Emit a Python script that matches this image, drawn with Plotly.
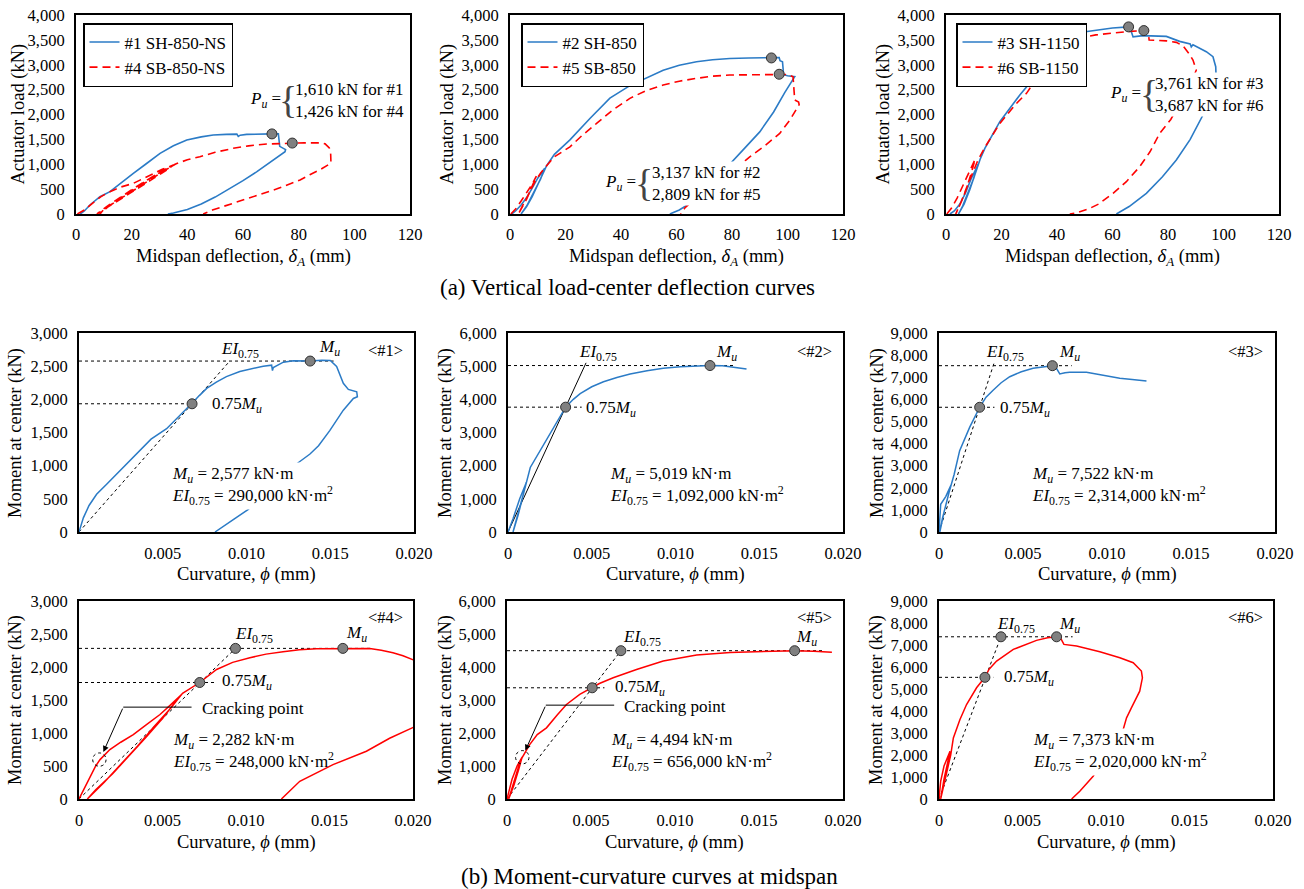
import plotly.graph_objects as go

W, H = 1304, 889
FONT = "Liberation Serif, Times New Roman, Times, serif"
BLUE = "#2B7BC6"
RED = "#FF0000"
GREY = "#808080"

# ---------------- (a) actuator load vs midspan deflection ----------------
a_xticks = [0, 20, 40, 60, 80, 100, 120]
a_yticks = [0, 500, 1000, 1500, 2000, 2500, 3000, 3500, 4000]

# #1 SH-850-NS
a1_sh_x = [1.5, 3.0, 5.0, 8.6, 12.2, 16.0, 20.6, 25.0, 30.2, 35.0, 39.8, 45.0, 49.3, 54.0, 57.8, 58.3, 59.0,
           61.3, 66.0, 70.4, 72.7, 73.0, 73.2, 74.5, 75.3, 75.1, 70.0, 65.0, 60.0, 55.0, 50.0, 45.0, 40.0, 35.0, 33.0]
a1_sh_y = [0, 60, 181, 348, 449, 620, 817, 1000, 1219, 1370, 1487, 1550, 1588, 1600, 1605, 1560, 1585,
           1600, 1612, 1610, 1610, 1500, 1360, 1320, 1295, 1253, 1040, 850, 670, 500, 340, 200, 90, 20, 0]
# #4 SB-850-NS
a1_sb_x = [0.5, 3, 6, 9, 12.2, 16, 20.6, 24, 27.8, 31, 35.0, 33, 28, 22, 16, 11, 7.5, 11, 16, 22, 28, 33, 35.5,
           32, 26, 20, 14, 10, 8.5, 12, 18, 24, 30, 36, 40, 44.5, 50, 56.5, 62, 68.5, 74, 77.7, 82, 87.7, 89.5,
           91.0, 91.5, 91.6, 88, 84, 80.5, 72, 63.7, 55, 49, 45.7]
a1_sb_y = [0, 80, 220, 350, 449, 540, 616, 710, 817, 900, 985, 900, 720, 510, 300, 130, 0, 150, 340, 560, 770,
           930, 995, 880, 660, 450, 240, 90, 0, 170, 400, 620, 840, 1010, 1090, 1152, 1240, 1320, 1370, 1407,
           1420, 1426, 1430, 1430, 1410, 1330, 1200, 1020, 900, 790, 683, 500, 348, 190, 80, 0]
a1_pu_x = [70.4, 77.7]
a1_pu_y = [1610, 1426]

# #2 SH-850
a2_sh_x = [0.6, 2, 4, 6, 8, 10, 12, 12.5, 11, 8, 6, 4, 6, 8, 10, 12, 13.2, 16, 21.6, 28.8, 36, 43.2, 50, 55.2,
           61, 67.2, 73, 79.2, 86, 94.2, 97, 97.3, 98.2, 98.6, 100, 102.6, 99, 95, 90, 85, 81.6, 75, 68, 64.8,
           61, 57.6]
a2_sh_y = [0, 60, 180, 330, 520, 720, 880, 920, 700, 380, 160, 0, 150, 350, 600, 850, 970, 1200, 1490, 1920,
           2330, 2580, 2760, 2890, 2990, 3060, 3100, 3125, 3137, 3137, 3145, 3080, 3060, 2800, 2780, 2760, 2440,
           2050, 1650, 1350, 1150, 750, 420, 214, 80, 0]
# #5 SB-850
a2_sb_x = [0.3, 2, 4, 6, 8, 9.5, 8, 6, 4, 3, 5, 7, 9, 11, 13.2, 16, 21.6, 26, 31.2, 37, 43.2, 49, 55.2, 61,
           67.2, 73, 79.2, 88, 97, 100, 102, 102.2, 102.6, 104, 104.2, 101, 97.2, 92, 86.4, 78, 70, 64.8, 63, 61.5]
a2_sb_y = [0, 100, 260, 420, 600, 760, 560, 300, 100, 0, 200, 430, 650, 820, 970, 1150, 1350, 1580, 1820,
           2090, 2325, 2480, 2593, 2670, 2727, 2770, 2794, 2805, 2809, 2805, 2760, 2500, 2291, 2250, 2200, 1900,
           1620, 1380, 1150, 750, 420, 214, 120, 0]
a2_pu_x = [94.2, 97.0]
a2_pu_y = [3137, 2809]

# #3 SH-1150
a3_sh_x = [1.4, 3, 5, 7, 9, 11, 11.6, 10, 8, 6, 4.5, 6.5, 8.5, 10.5, 12.3, 14, 19.4, 26.6, 32.6, 37, 41, 47,
           54, 60, 65.8, 66.3, 66.8, 67.4, 71, 79.4, 84.2, 88, 88.4, 89, 93.8, 96.2, 97.2, 97.3, 95.5, 92.6, 88,
           83, 78, 72.2, 66, 61.4]
a3_sh_y = [0, 60, 200, 420, 700, 950, 1000, 720, 420, 160, 0, 200, 480, 800, 1100, 1320, 1856, 2392, 2794,
           3200, 3500, 3640, 3700, 3740, 3761, 3770, 3665, 3560, 3585, 3570, 3470, 3420, 3360, 3400, 3263, 3162,
           2961, 2800, 2400, 1990, 1500, 1085, 750, 415, 150, 0]
# #6 SB-1150
a3_sb_x = [0.3, 2, 4, 6, 8, 10, 10.5, 9, 7, 5, 3.5, 5.5, 7.5, 9.5, 11.5, 14, 19.4, 25, 29, 33, 36.2, 41, 47,
           54, 60, 66, 71.3, 72.8, 73.2, 76, 79.4, 83, 85.4, 87.5, 89, 90.2, 88, 84, 81, 77, 73.5, 69.8, 65,
           60.2, 55, 51.8, 47, 44.6]
a3_sb_y = [0, 120, 320, 560, 820, 1050, 1100, 800, 450, 180, 0, 250, 540, 830, 1080, 1340, 1820, 2200, 2425,
           2750, 3050, 3350, 3530, 3600, 3640, 3670, 3687, 3690, 3497, 3490, 3480, 3450, 3380, 3230, 3095, 2894,
           2600, 2200, 1900, 1621, 1250, 951, 650, 415, 200, 114, 20, 0]
a3_pu_x = [65.8, 71.3]
a3_pu_y = [3761, 3687]

# ---------------- (b) moment vs curvature ----------------
c_xticks = [0, 0.005, 0.010, 0.015, 0.020]
c_xlabels = ["0", "0.005", "0.010", "0.015", "0.020"]

# <#1>
m1_x = [0, 0.00026, 0.0006, 0.00105, 0.00165, 0.00225, 0.003, 0.00364, 0.0043, 0.00523, 0.006, 0.00673,
        0.0072, 0.00762, 0.0082, 0.0088, 0.0096, 0.0104, 0.011, 0.0115, 0.01155, 0.0116, 0.0122, 0.0128,
        0.01379, 0.0145, 0.015, 0.01538, 0.01578, 0.01608, 0.01658, 0.01662, 0.01638, 0.01578, 0.01498,
        0.0143, 0.01379, 0.0127, 0.0115, 0.0107, 0.01011, 0.00921, 0.00812]
m1_y = [0, 213, 400, 568, 720, 872, 1060, 1227, 1400, 1557, 1760, 1937, 2060, 2165, 2260, 2343, 2420, 2469,
        2500, 2515, 2434, 2480, 2560, 2581, 2577, 2590, 2586, 2495, 2241, 2150, 2114, 2038, 2013, 1836, 1531,
        1300, 1176, 973, 700, 500, 340, 188, 0]
m1_pts_x = [0.00675, 0.0138]
m1_pts_y = [1933, 2577]
m1_ei_x = [0, 0.0090]
m1_ei_y = [0, 2577]
m1_hend = [0.0152, 0.0070]

# <#2>
m2_x = [0, 0.0003, 0.0007, 0.0011, 0.0009, 0.0006, 0.0003, 0.0007, 0.001, 0.00133, 0.0018, 0.00232, 0.0029,
        0.00344, 0.0039, 0.00431, 0.005, 0.0057, 0.0065, 0.00729, 0.0083, 0.00927, 0.0103, 0.01126, 0.01206,
        0.0128, 0.01325, 0.0137, 0.01424]
m2_y = [0, 400, 1000, 1500, 1100, 500, 0, 700, 1300, 1945, 2350, 2755, 3280, 3764, 4000, 4174, 4380, 4528,
        4660, 4761, 4860, 4934, 4980, 5005, 5019, 5010, 4984, 4960, 4913]
m2_pts_x = [0.00344, 0.01206]
m2_pts_y = [3764, 5019]
m2_ei_x = [0, 0.00466]
m2_ei_y = [0, 5100]
m2_hend = [0.0136, 0.0044]

# <#3>
m3_x = [0, 0.0001, 0.0004, 0.0007, 0.0005, 0.0002, 0.00005, 0.0003, 0.0006, 0.0009, 0.00123, 0.00183,
        0.00242, 0.0028, 0.00322, 0.0037, 0.00421, 0.0049, 0.0056, 0.0062, 0.00675, 0.00699, 0.00719, 0.0075,
        0.00778, 0.00878, 0.00977, 0.01076, 0.0115, 0.01235]
m3_y = [0, 1250, 1600, 2100, 1500, 600, 0, 900, 1800, 2600, 3678, 4742, 5641, 6100, 6414, 6750, 7022, 7250,
        7402, 7480, 7522, 7402, 7150, 7200, 7230, 7220, 7098, 6950, 6900, 6830]
m3_pts_x = [0.00242, 0.00675]
m3_pts_y = [5641, 7522]
m3_ei_x = [0, 0.00332]
m3_ei_y = [0, 7740]
m3_hend = [0.0079, 0.0033]

# <#4>
m4_x = [0, 0.0003, 0.00066, 0.001, 0.00126, 0.00185, 0.0025, 0.00325, 0.004, 0.00485, 0.0055, 0.00614,
        0.0058, 0.005, 0.004, 0.003, 0.002, 0.001, 0.0005, 0.0015, 0.0025, 0.0035, 0.0045, 0.0055, 0.0062,
        0.00723, 0.00824, 0.0092, 0.01023, 0.0112, 0.01222, 0.0132, 0.01422, 0.0158, 0.0166, 0.01741, 0.0181,
        0.0188, 0.0194, 0.0201, None, 0.0201, 0.0186, 0.01721, 0.01521, 0.01322, 0.01212]
m4_y = [0, 150, 330, 500, 597, 749, 860, 977, 1120, 1280, 1430, 1584, 1480, 1220, 930, 650, 380, 140, 0,
        250, 520, 800, 1100, 1380, 1600, 1765, 1963, 2070, 2140, 2195, 2231, 2260, 2277, 2282, 2288, 2282,
        2255, 2216, 2170, 2100, None, 1095, 920, 724, 521, 268, 0]
m4_pts_x = [0.00723, 0.00937, 0.0158]
m4_pts_y = [1765, 2282, 2282]
m4_ei_x = [0, 0.00937]
m4_ei_y = [0, 2282]
m4_hend = [0.0175, 0.0082]

# <#5>
m5_x = [0, 0.0003, 0.0006, 0.0009, 0.0007, 0.0004, 0.0001, 0.0004, 0.0007, 0.00091, 0.00135, 0.0018,
        0.00235, 0.003, 0.00354, 0.00433, 0.00507, 0.0055, 0.00632, 0.00771, 0.0093, 0.01129, 0.01328,
        0.01527, 0.0165, 0.01712, 0.01825, 0.01934]
m5_y = [0, 600, 1000, 1270, 900, 400, 0, 500, 1000, 1265, 1650, 1950, 2156, 2550, 2864, 3168, 3370, 3500,
        3674, 3926, 4180, 4362, 4440, 4470, 4490, 4494, 4480, 4450]
m5_pts_x = [0.00507, 0.00678, 0.01712]
m5_pts_y = [3370, 4494, 4494]
m5_ei_x = [0, 0.00678]
m5_ei_y = [0, 4494]
m5_hend = [0.0189, 0.0058]

# <#6>
m6_x = [0, 0.0001, 0.0003, 0.00066, 0.0005, 0.0003, 0.0001, 0.0004, 0.0007, 0.00086, 0.00125, 0.00165,
        0.00225, 0.00275, 0.003, 0.00345, 0.00445, 0.00584, 0.0065, 0.00704, 0.00724, 0.00748, 0.00824,
        0.00963, 0.01083, 0.01163, 0.01212, 0.01218, 0.01202, 0.01152, 0.01123, 0.01103, 0.0105, 0.0098,
        0.00923, 0.00843, 0.00794]
m6_y = [0, 800, 1500, 2170, 1600, 900, 0, 1000, 2000, 2778, 3600, 4296, 5055, 5530, 5900, 6269, 6800, 7210,
        7330, 7373, 7373, 7028, 6952, 6694, 6421, 6193, 5814, 5510, 4903, 4144, 3689, 3157, 2400, 1700, 1032,
        349, 0]
m6_pts_x = [0.00275, 0.00371, 0.00704]
m6_pts_y = [5530, 7373, 7373]
m6_ei_x = [0, 0.00371]
m6_ei_y = [0, 7373]
m6_hend = [0.0080, 0.00325]

# cracking points (centre) for <#4>, <#5>
crack4 = [0.00122, 597]
crack5 = [0.00091, 1265]

fig = go.Figure()


def ax_id(i):
    return ("x", "y") if i == 1 else (f"x{i}", f"y{i}")


def add_line(i, x, y, color, dash=None, width=1.6, name=None, legend="legend"):
    xa, ya = ax_id(i)
    fig.add_trace(go.Scatter(
        x=x, y=y, xaxis=xa, yaxis=ya, mode="lines",
        line=dict(color=color, width=width, dash=dash),
        name=name if name else "", showlegend=name is not None, legend=legend,
        connectgaps=False, hoverinfo="skip"))


def add_dots(i, x, y):
    xa, ya = ax_id(i)
    fig.add_trace(go.Scatter(
        x=x, y=y, xaxis=xa, yaxis=ya, mode="markers", showlegend=False, hoverinfo="skip",
        marker=dict(size=10, color=GREY, line=dict(color="#303030", width=1))))


DASH_RED = "8px,5px"
# (a) panels
add_line(1, a1_sh_x, a1_sh_y, BLUE, name="#1 SH-850-NS", legend="legend")
add_line(1, a1_sb_x, a1_sb_y, RED, dash=DASH_RED, name="#4 SB-850-NS", legend="legend")
add_dots(1, a1_pu_x, a1_pu_y)
add_line(2, a2_sh_x, a2_sh_y, BLUE, name="#2 SH-850", legend="legend2")
add_line(2, a2_sb_x, a2_sb_y, RED, dash=DASH_RED, name="#5 SB-850", legend="legend2")
add_dots(2, a2_pu_x, a2_pu_y)
add_line(3, a3_sh_x, a3_sh_y, BLUE, name="#3 SH-1150", legend="legend3")
add_line(3, a3_sb_x, a3_sb_y, RED, dash=DASH_RED, name="#6 SB-1150", legend="legend3")
add_dots(3, a3_pu_x, a3_pu_y)

# (b) panels
REFDASH = "3px,3px"
mc = [
    (4, m1_x, m1_y, BLUE, m1_pts_x, m1_pts_y, m1_ei_x, m1_ei_y, m1_hend, False),
    (5, m2_x, m2_y, BLUE, m2_pts_x, m2_pts_y, m2_ei_x, m2_ei_y, m2_hend, True),
    (6, m3_x, m3_y, BLUE, m3_pts_x, m3_pts_y, m3_ei_x, m3_ei_y, m3_hend, False),
    (7, m4_x, m4_y, RED, m4_pts_x, m4_pts_y, m4_ei_x, m4_ei_y, m4_hend, False),
    (8, m5_x, m5_y, RED, m5_pts_x, m5_pts_y, m5_ei_x, m5_ei_y, m5_hend, False),
    (9, m6_x, m6_y, RED, m6_pts_x, m6_pts_y, m6_ei_x, m6_ei_y, m6_hend, False),
]
for i, cx, cy, col, px_, py_, ex, ey, hend, solid_ei in mc:
    mu = py_[-1]
    mu75 = py_[0]
    add_line(i, [0, hend[0]], [mu, mu], "black", dash=REFDASH, width=1)
    add_line(i, [0, hend[1]], [mu75, mu75], "black", dash=REFDASH, width=1)
    add_line(i, ex, ey, "black", dash=None if solid_ei else REFDASH, width=1)
    add_line(i, cx, cy, col, width=1.5)
    add_dots(i, px_, py_)

# ---------------- layout ----------------
panel_px = {
    1: ((76, 410), (15, 214)),
    2: ((510, 843), (15, 214)),
    3: ((946, 1279), (15, 214)),
    4: ((79, 414), (333, 532)),
    5: ((508, 843), (333, 532)),
    6: ((939, 1275), (333, 532)),
    7: ((79, 413), (601, 799)),
    8: ((507, 843), (601, 799)),
    9: ((939, 1273), (601, 799)),
}
ymax = {4: 3000, 5: 6000, 6: 9000, 7: 3000, 8: 6000, 9: 9000}
ydt = {4: 500, 5: 1000, 6: 1000, 7: 500, 8: 1000, 9: 1000}

tickfont = dict(family=FONT, size=16.5, color="black")
layout = {}
for i, ((x0, x1), (y0, y1)) in panel_px.items():
    xk = "xaxis" if i == 1 else f"xaxis{i}"
    yk = "yaxis" if i == 1 else f"yaxis{i}"
    xa, ya = ax_id(i)
    common = dict(showline=True, mirror=True, linecolor="black", linewidth=2, ticks="",
                  showgrid=False, zeroline=False, tickfont=tickfont, fixedrange=True)
    if i <= 3:
        xax = dict(domain=[x0 / W, x1 / W], range=[0, 120], tickvals=a_xticks, anchor=ya,
                   ticklabelstandoff=4, **common)
        yax = dict(domain=[1 - y1 / H, 1 - y0 / H], range=[0, 4000], tickvals=a_yticks,
                   tickformat=",d", anchor=xa, ticklabelstandoff=6, **common)
    else:
        labels = list(c_xlabels)
        if i == 4:
            labels[0] = ""
        xax = dict(domain=[x0 / W, x1 / W], range=[0, 0.02], tickvals=c_xticks, ticktext=labels,
                   anchor=ya, ticklabelstandoff=5, **common)
        yax = dict(domain=[1 - y1 / H, 1 - y0 / H], range=[0, ymax[i]], dtick=ydt[i], tick0=0,
                   tickformat=",d", anchor=xa, ticklabelstandoff=6, **common)
    layout[xk] = xax
    layout[yk] = yax

legfont = dict(family=FONT, size=17, color="black")
for key, xpx in (("legend", 83), ("legend2", 521), ("legend3", 956)):
    layout[key] = dict(x=xpx / W, y=1 - 23 / H, xanchor="left", yanchor="top", bgcolor="white",
                       bordercolor="black", borderwidth=1.5, font=legfont, tracegroupgap=0,
                       entrywidth=125, entrywidthmode="pixels", itemclick=False, itemdoubleclick=False)

ann = []


def txt(i, x, y, text, size=17, xa="center", ya="middle", bg=None, color="black"):
    xr, yr = ax_id(i)
    d = dict(xref=xr, yref=yr, x=x, y=y, text=text, showarrow=False, xanchor=xa, yanchor=ya,
             align="left", font=dict(family=FONT, size=size, color=color))
    if bg:
        d.update(bgcolor=bg, borderpad=1)
    return d


def paper(xp, yp, text, size=18.5, angle=0):
    return dict(xref="paper", yref="paper", x=xp / W, y=1 - yp / H, text=text, showarrow=False,
                xanchor="center", yanchor="middle", textangle=angle,
                font=dict(family=FONT, size=size, color="black"))


PU = "<i>P</i><sub><i>u</i></sub> ="
# P_u annotations (a)
for i, (xl, xb, xt, yc, l1, l2) in {
    1: (74.4, 76.2, 77.9, 2291, "1,610 kN for #1", "1,426 kN for #4"),
    2: (46.1, 48.3, 50.5, 623, "3,137 kN for #2", "2,809 kN for #5"),
    3: (71.0, 73.2, 74.6, 2412, "3,761 kN for #3", "3,687 kN for #6"),
}.items():
    ann.append(txt(i, xl, yc, PU, xa="right", bg="white"))
    ann.append(txt(i, xt, yc, l1 + "<br>" + l2, xa="left", bg="white"))
    ann.append(txt(i, xb, yc, "{", size=38, color="#444444"))

EI = "<i>EI</i><sub>0.75</sub>"
MU = "<i>M</i><sub><i>u</i></sub>"
M75 = "0.75<i>M</i><sub><i>u</i></sub>"
mlabels = {
    4: ((0.00963, 2738), (0.01493, 2773), (0.01831, 2738), (0.0078, 1911), (0.00543, 695),
        "2,577", "290,000", "&lt;#1&gt;", True),
    5: ((0.00538, 5389), (0.01307, 5389), (0.01829, 5440), (0.00455, 3718), (0.00596, 1388),
        "5,019", "1,092,000", "&lt;#2&gt;", False),
    6: ((0.00393, 8086), (0.00779, 8117), (0.01825, 8162), (0.00352, 5578), (0.0054, 2082),
        "7,522", "2,314,000", "&lt;#3&gt;", False),
    7: ((0.01049, 2484), (0.01661, 2494), (0.01835, 2748), (0.00847, 1776), (0.00548, 708),
        "2,282", "248,000", "&lt;#4&gt;", False),
    8: ((0.00805, 4868), (0.01785, 4868), (0.01833, 5495), (0.00628, 3350), (0.00606, 1417),
        "4,494", "656,000", "&lt;#5&gt;", False),
    9: ((0.00459, 7894), (0.00784, 7894), (0.01835, 8243), (0.00379, 5510), (0.00548, 2125),
        "7,373", "2,020,000", "&lt;#6&gt;", True),
}
for i, (pe, pm, pn, p75, pt, mu_s, ei_s, tag, cover) in mlabels.items():
    ann.append(txt(i, pe[0], pe[1], EI))
    ann.append(txt(i, pm[0], pm[1], MU))
    ann.append(txt(i, pn[0], pn[1], tag, size=16.5))
    ann.append(txt(i, p75[0], p75[1], M75, xa="left"))
    ann.append(txt(i, pt[0], pt[1],
                   f"{MU} = {mu_s} kN·m<br>{EI} = {ei_s} kN·m<sup>2</sup>", xa="left",
                   bg="white" if cover else None))

# cracking point call-outs
shapes = []
for i, c, corner, tip, tend, tx, ty, ry in (
    (7, crack4, (0.00265, 1392), (0.00146, 713), 0.00674, 0.00724, 1371, 101),
    (8, crack5, (0.00231, 2844), (0.00109, 1467), 0.00638, 0.00686, 2813, 202),
):
    xr, yr = ax_id(i)
    shapes.append(dict(type="circle", xref=xr, yref=yr, x0=c[0] - 0.0004, x1=c[0] + 0.0004,
                       y0=c[1] - ry, y1=c[1] + ry, line=dict(color="black", width=1, dash="dot")))
    shapes.append(dict(type="line", xref=xr, yref=yr, x0=corner[0], x1=tend, y0=corner[1], y1=corner[1],
                       line=dict(color="black", width=1)))
    ann.append(dict(xref=xr, yref=yr, axref=xr, ayref=yr, x=tip[0], y=tip[1], ax=corner[0], ay=corner[1],
                    text="", showarrow=True, arrowhead=2, arrowsize=1.2, arrowwidth=1, arrowcolor="black"))
    ann.append(txt(i, tx, ty, "Cracking point", xa="left"))

# axis titles & captions
XA = "Midspan deflection, <i>δ</i><sub><i>A</i></sub> (mm)"
XC = "Curvature, <i>ϕ</i> (mm)"
for xc in (243, 676.5, 1112.5):
    ann.append(paper(xc, 258, XA))
for xt in (18, 447, 883):
    ann.append(paper(xt, 114.5, "Actuator load (kN)", angle=-90))
for xc in (246.5, 675.5, 1107):
    ann.append(paper(xc, 574, XC))
for xc in (246, 675, 1106):
    ann.append(paper(xc, 842, XC))
for xt in (15, 445, 877):
    ann.append(paper(xt, 433, "Moment at center (kN)", angle=-90))
for xt in (15, 445, 876):
    ann.append(paper(xt, 700, "Moment at center (kN)", angle=-90))
ann.append(paper(627, 287, "(a) Vertical load-center deflection curves", size=23))
ann.append(paper(649, 876, "(b) Moment-curvature curves at midspan", size=23))

fig.update_layout(
    width=W, height=H, autosize=False,
    margin=dict(l=0, r=0, t=0, b=0, autoexpand=False),
    paper_bgcolor="white", plot_bgcolor="white",
    font=dict(family=FONT, color="black"),
    showlegend=True, hovermode=False,
    annotations=ann, shapes=shapes,
    **layout,
)

fig.write_html("out.html")
